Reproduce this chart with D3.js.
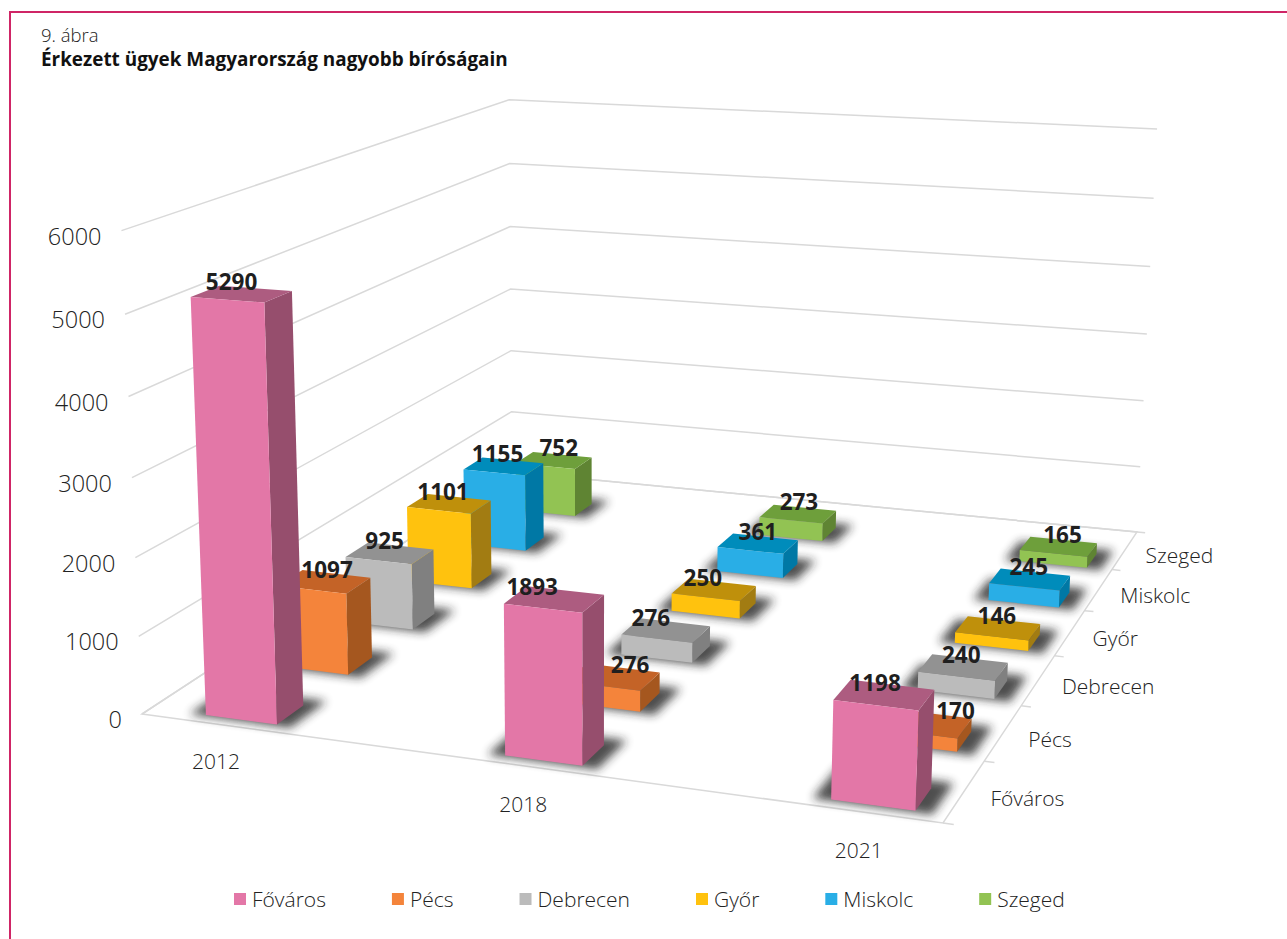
<!DOCTYPE html>
<html lang="hu">
<head>
<meta charset="utf-8">
<title>Érkezett ügyek Magyarország nagyobb bíróságain</title>
<script src="https://cdnjs.cloudflare.com/ajax/libs/d3/7.8.5/d3.min.js"></script>
<style>
html, body { margin: 0; padding: 0; background: #fff; overflow: hidden; }
text { font-family: "Open Sans", sans-serif; fill: #222; }
</style>
</head>
<body>
<script>
// Data
var years = ["2012", "2018", "2021"];
var series = ["Főváros", "Pécs", "Debrecen", "Győr", "Miskolc", "Szeged"];
var fovaros = [5290, 1893, 1198];
var pecs = [1097, 276, 170];
var debrecen = [925, 276, 240];
var gyor = [1101, 250, 146];
var miskolc = [1155, 361, 245];
var szeged = [752, 273, 165];
var yTicks = [0, 1000, 2000, 3000, 4000, 5000, 6000];
var allValues = [fovaros, pecs, debrecen, gyor, miskolc, szeged];

// front, side, top
var frontColors = ["#e377a7", "#f4843b", "#bbbbbb", "#ffc20e", "#29aee6", "#92c353"];
var sideColors = ["#964e6d", "#a5571f", "#808080", "#a27c12", "#0078a5", "#5f8433"];
var topColors = ["#ad5c80", "#c46327", "#929292", "#bf900b", "#008cbb", "#6e9f3b"];

// value labels were moved by hand in the original, px per series and year
var labelNudge = [[0, -12, 1], [13, 27, 41], [5, -5, 8], [4, -1, 9], [4, 10, 9], [15, 11, 14]];

var w = 1287, h = 939;

// corners of the chart box on screen
var floorCorners = [[142, 714], [943, 823], [1137, 532], [512, 472]];
var topCorners = [[[0, 0], [119, 229]], [[0, 1], [512, 99]], [[1, 1], [1156, 131]]];

// gauss elimination
function solve(A, b) {
    var n = b.length;
    var M = A.map(function(r, i) { return r.concat(b[i]); });
    for (var i = 0; i < n; i++) {
        var p = i;
        for (var k = i + 1; k < n; k++) if (Math.abs(M[k][i]) > Math.abs(M[p][i])) p = k;
        var t = M[i]; M[i] = M[p]; M[p] = t;
        for (var k = 0; k < n; k++) {
            if (k == i) continue;
            var f = M[k][i] / M[i][i];
            for (var j = i; j <= n; j++) M[k][j] -= f * M[i][j];
        }
    }
    return M.map(function(r, i) { return r[n] / r[i]; });
}

// floor homography (u,v) -> screen
var uv = [[0, 0], [1, 0], [1, 1], [0, 1]];
var A8 = [], b8 = [];
uv.forEach(function(p, i) {
    var X = floorCorners[i][0], Y = floorCorners[i][1];
    A8.push([p[0], p[1], 1, 0, 0, 0, -X * p[0], -X * p[1]]); b8.push(X);
    A8.push([0, 0, 0, p[0], p[1], 1, -Y * p[0], -Y * p[1]]); b8.push(Y);
});
var H = solve(A8, b8);

// height column of the camera matrix, least squares on the known top corners
var rows = [], rhs = [];
topCorners.forEach(function(c) {
    var u = c[0][0], v = c[0][1], X = c[1][0], Y = c[1][1];
    var ax = H[0] * u + H[1] * v + H[2], ay = H[3] * u + H[4] * v + H[5], az = H[6] * u + H[7] * v + 1;
    rows.push([1, 0, -X]); rhs.push(X * az - ax);
    rows.push([0, 1, -Y]); rhs.push(Y * az - ay);
});
var AtA = [0, 1, 2].map(function(i) { return [0, 1, 2].map(function(j) { return d3.sum(rows, function(r) { return r[i] * r[j]; }); }); });
var Atb = [0, 1, 2].map(function(i) { return d3.sum(rows, function(r, k) { return r[i] * rhs[k]; }); });
var C = solve(AtA, Atb);

function project(u, v, z) {
    var d = H[6] * u + H[7] * v + 1 + C[2] * z;
    return [(H[0] * u + H[1] * v + H[2] + C[0] * z) / d, (H[3] * u + H[4] * v + H[5] + C[1] * z) / d];
}

// Scales
var xScale = d3.scaleBand().domain(years).range([0.075, 0.963]).paddingInner(0.755);
var depthScale = d3.scaleBand().domain(series).range([0.02, 0.89]).paddingInner(0.6315);
var depthTicks = d3.scaleBand().domain(series).range([0, 1]);
var zScale = d3.scaleLinear().domain([0, 6000]).range([0, 1]);
var barZ = d3.scaleLinear().domain([0, 6000]).range([0, 0.985]);

var svg = d3.select("body").append("svg").attr("width", w).attr("height", h);
svg.append("rect").attr("width", w).attr("height", h).attr("fill", "#fff");

var blur = svg.append("defs").append("filter").attr("id", "shadow")
    .attr("x", "-50%").attr("y", "-50%").attr("width", "200%").attr("height", "200%");
blur.append("feGaussianBlur").attr("stdDeviation", 5);

// Border
svg.append("path").attr("d", "M10," + h + "V12H" + w)
    .attr("fill", "none").attr("stroke", "#cf2566").attr("stroke-width", 2);

// Titles
svg.append("text").attr("x", 41).attr("y", 42).attr("font-size", 18.5).attr("font-weight", 300).text("9. ábra");
svg.append("text").attr("x", 41).attr("y", 65.5).attr("font-size", 18.9).attr("font-weight", 700).style("fill", "#111")
    .text("Érkezett ügyek Magyarország nagyobb bíróságain");

var line = d3.line();
var poly = function(pts) { return line(pts) + "Z"; };

// Walls
var grid = svg.append("g").attr("fill", "none").attr("stroke", "#d9d9d9").attr("stroke-width", 1.5);
grid.selectAll("path.wall").data(yTicks).enter().append("path").attr("class", "wall")
    .attr("d", function(d) {
        var z = zScale(d);
        return line([project(0, 0, z), project(0, 1, z), project(1, 1, z)]);
    });
grid.append("path").attr("d", poly([project(0, 0, 0), project(1, 0, 0), project(1, 1, 0), project(0, 1, 0)]));
grid.selectAll("path.tick").data(d3.range(series.length + 1)).enter().append("path").attr("class", "tick")
    .attr("d", function(d) {
        var v = d / series.length;
        return line([project(1, v, 0), project(1.012, v, 0)]);
    });

// Axis labels
svg.append("g").selectAll("text").data(yTicks).enter().append("text")
    .attr("x", function(d) { return project(0, 0, zScale(d))[0] - 20; })
    .attr("y", function(d) { return project(0, 0, zScale(d))[1] + 14; })
    .attr("text-anchor", "end").attr("font-size", 23.5).attr("font-weight", 300)
    .text(function(d) { return d; });

svg.append("g").selectAll("text").data(years).enter().append("text")
    .attr("x", function(d) { return project(xScale(d) + xScale.bandwidth() / 2, -0.04, 0)[0] + 3; })
    .attr("y", function(d) { return project(xScale(d) + xScale.bandwidth() / 2, -0.04, 0)[1] + 30; })
    .attr("text-anchor", "middle").attr("font-size", 21).attr("font-weight", 300)
    .text(function(d) { return d; });

svg.append("g").selectAll("text").data(series).enter().append("text")
    .attr("x", function(d) { return project(1.03, depthTicks(d) + depthTicks.bandwidth() / 2, 0)[0]; })
    .attr("y", function(d) { return project(1.03, depthTicks(d) + depthTicks.bandwidth() / 2, 0)[1] + 11; })
    .attr("font-size", 21).attr("font-weight", 300)
    .text(function(d) { return d; });

// Bars, back row first
var bars = [];
series.forEach(function(s, si) {
    years.forEach(function(y, yi) {
        bars.push({ series: s, year: y, si: si, yi: yi, value: allValues[si][yi] });
    });
});
bars.sort(function(a, b) { return b.si - a.si; });

var barG = svg.selectAll("g.bar").data(bars).enter().append("g").attr("class", "bar");

function corners(d) {
    var v0 = depthScale(d.series), v1 = v0 + depthScale.bandwidth();
    // back rows sit a little further right than the plain projection
    var u0 = xScale(d.year);
    u0 += 0.019 * v0 * (1 - u0);
    var u1 = u0 + xScale.bandwidth();
    return { u0: u0, u1: u1, v0: v0, v1: v1, z: barZ(d.value) };
}

barG.append("path").attr("fill", "#222").attr("opacity", 0.8).attr("filter", "url(#shadow)")
    .attr("d", function(d) {
        var c = corners(d);
        return poly([project(c.u0 - 0.02, c.v0 - 0.004, 0), project(c.u1 + 0.02, c.v0 - 0.004, 0),
            project(c.u1 + 0.02, c.v1 + 0.02, 0), project(c.u0 - 0.02, c.v1 + 0.02, 0)]);
    });
barG.append("path").attr("fill", function(d) { return sideColors[d.si]; })
    .attr("d", function(d) {
        var c = corners(d);
        return poly([project(c.u1, c.v0, 0), project(c.u1, c.v1, 0), project(c.u1, c.v1, c.z), project(c.u1, c.v0, c.z)]);
    });
barG.append("path").attr("fill", function(d) { return topColors[d.si]; })
    .attr("d", function(d) {
        var c = corners(d);
        return poly([project(c.u0, c.v0, c.z), project(c.u1, c.v0, c.z), project(c.u1, c.v1, c.z), project(c.u0, c.v1, c.z)]);
    });
barG.append("path").attr("fill", function(d) { return frontColors[d.si]; })
    .attr("d", function(d) {
        var c = corners(d);
        return poly([project(c.u0, c.v0, 0), project(c.u1, c.v0, 0), project(c.u1, c.v0, c.z), project(c.u0, c.v0, c.z)]);
    });

// Value labels
svg.append("g").selectAll("text").data(bars).enter().append("text")
    .attr("x", function(d) {
        var c = corners(d);
        return project((c.u0 + c.u1) / 2, (c.v0 + c.v1) / 2, c.z)[0] - 10 + labelNudge[d.si][d.yi];
    })
    .attr("y", function(d) {
        var c = corners(d);
        return project((c.u0 + c.u1) / 2, (c.v0 + c.v1) / 2, c.z)[1] - 4;
    })
    .attr("text-anchor", "middle").attr("font-size", 22.5).attr("font-weight", 700)
    .style("fill", "#1f1f1f").text(function(d) { return d.value; });

// Legend
var legendX = 234;
series.forEach(function(s, i) {
    svg.append("rect").attr("x", legendX).attr("y", 893).attr("width", 12).attr("height", 12).attr("fill", frontColors[i]);
    var t = svg.append("text").attr("x", legendX + 18).attr("y", 907).attr("font-size", 21).attr("font-weight", 300).text(s);
    legendX += 18 + t.node().getComputedTextLength() + 66;
});
</script>
</body>
</html>
